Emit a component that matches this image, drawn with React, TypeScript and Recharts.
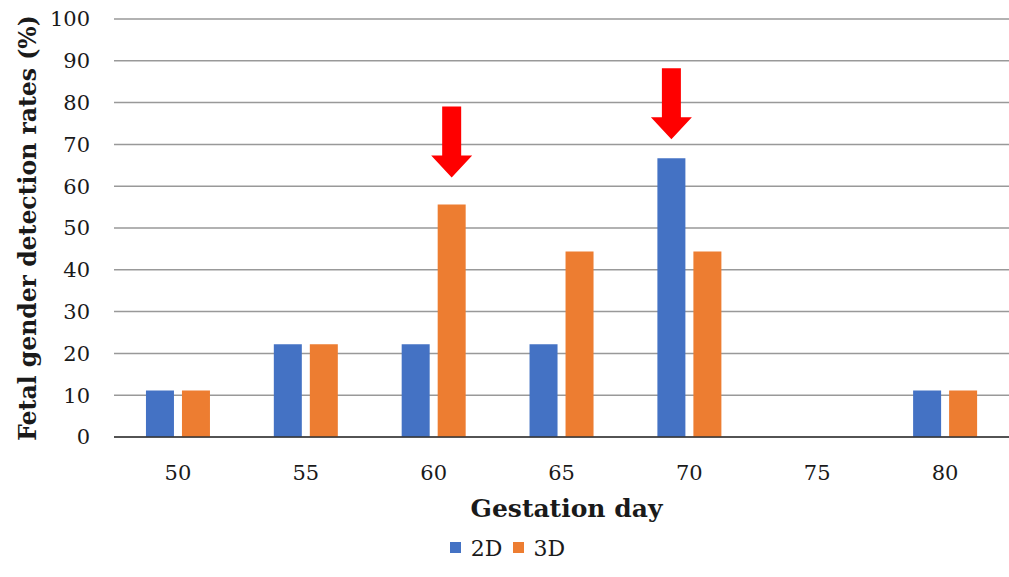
import { BarChart, Bar, XAxis, YAxis, CartesianGrid, Legend, LabelList } from 'recharts';

const days = ['50', '55', '60', '65', '70', '75', '80'];
const rate2D = [11.1, 22.2, 22.2, 22.2, 66.7, 0, 11.1];
const rate3D = [11.1, 22.2, 55.6, 44.4, 44.4, 0, 11.1];
const yTicks = [0, 10, 20, 30, 40, 50, 60, 70, 80, 90, 100];

// which bars get the red arrow
const arrow2D = [false, false, false, false, true, false, false];
const arrow3D = [false, false, true, false, false, false, false];

const data = days.map((day, i) => ({ day, d2: rate2D[i], d3: rate3D[i] }));

const FONT = "'DejaVu Serif', serif";

function makeArrow(flags: boolean[], gap: number) {
  return (props: any) => {
    const { x, y, width, index } = props;
    if (!flags[index]) return null;
    const cx = Number(x) + Number(width) / 2;
    const tip = Number(y) - gap;
    const head = 22;
    const len = 71;
    const sw = 9.5;
    const hw = 20.5;
    const pts = [
      [cx, tip],
      [cx - hw, tip - head],
      [cx - sw, tip - head],
      [cx - sw, tip - len],
      [cx + sw, tip - len],
      [cx + sw, tip - head],
      [cx + hw, tip - head],
    ]
      .map((p) => p.join(','))
      .join(' ');
    return <polygon points={pts} fill='#ff0000' />;
  };
}

export default function App() {
  return (
    <div style={{ position: 'absolute', left: 0, top: 0, background: '#fff' }}>
      <BarChart
        width={1009}
        height={577}
        data={data}
        margin={{ top: 19, right: 0, left: 0, bottom: 0 }}
        barCategoryGap='25%'
        barGap={8}
      >
        <CartesianGrid vertical={false} stroke='#999' strokeWidth={1.5} />
        <XAxis
          dataKey='day'
          height={92}
          tickLine={false}
          axisLine={{ stroke: '#333', strokeWidth: 1.5 }}
          tickMargin={22}
          tick={{ fontSize: 21, fill: '#1a1a1a', fontFamily: FONT }}
          label={{
            content: ({ viewBox }: any) => (
              <text
                x={viewBox.x + viewBox.width / 2 + 5}
                y={517}
                textAnchor='middle'
                fontSize={25}
                fontWeight='bold'
                fontFamily={FONT}
                fill='#1a1a1a'
              >
                Gestation day
              </text>
            ),
          }}
        />
        <YAxis
          width={114}
          domain={[0, 100]}
          ticks={yTicks}
          interval={0}
          tickLine={false}
          axisLine={false}
          tickSize={0}
          tickMargin={24}
          tick={{ fontSize: 21, fill: '#1a1a1a', fontFamily: FONT }}
          label={{
            content: ({ viewBox }: any) => {
              const cy = viewBox.y + viewBox.height / 2;
              return (
                <text
                  x={28}
                  y={cy}
                  transform={`rotate(-90 28 ${cy})`}
                  textAnchor='middle'
                  dominantBaseline='central'
                  fontSize={23.5}
                  fontWeight='bold'
                  fontFamily={FONT}
                  fill='#1a1a1a'
                >
                  Fetal gender detection rates (%)
                </text>
              );
            },
          }}
        />
        <Legend
          verticalAlign='bottom'
          height={44}
          iconType='square'
          iconSize={11}
          wrapperStyle={{ paddingTop: 4, fontFamily: FONT, fontSize: 22, left: 8 }}
          formatter={(value) => (
            <span style={{ color: '#1a1a1a', marginLeft: 6, position: 'relative', top: 3 }}>{value}</span>
          )}
        />
        <Bar dataKey='d2' name='2D' fill='#4472c4' isAnimationActive={false}>
          <LabelList dataKey='d2' content={makeArrow(arrow2D, 19)} />
        </Bar>
        <Bar dataKey='d3' name='3D' fill='#ed7d31' isAnimationActive={false}>
          <LabelList dataKey='d3' content={makeArrow(arrow3D, 27)} />
        </Bar>
      </BarChart>
    </div>
  );
}
